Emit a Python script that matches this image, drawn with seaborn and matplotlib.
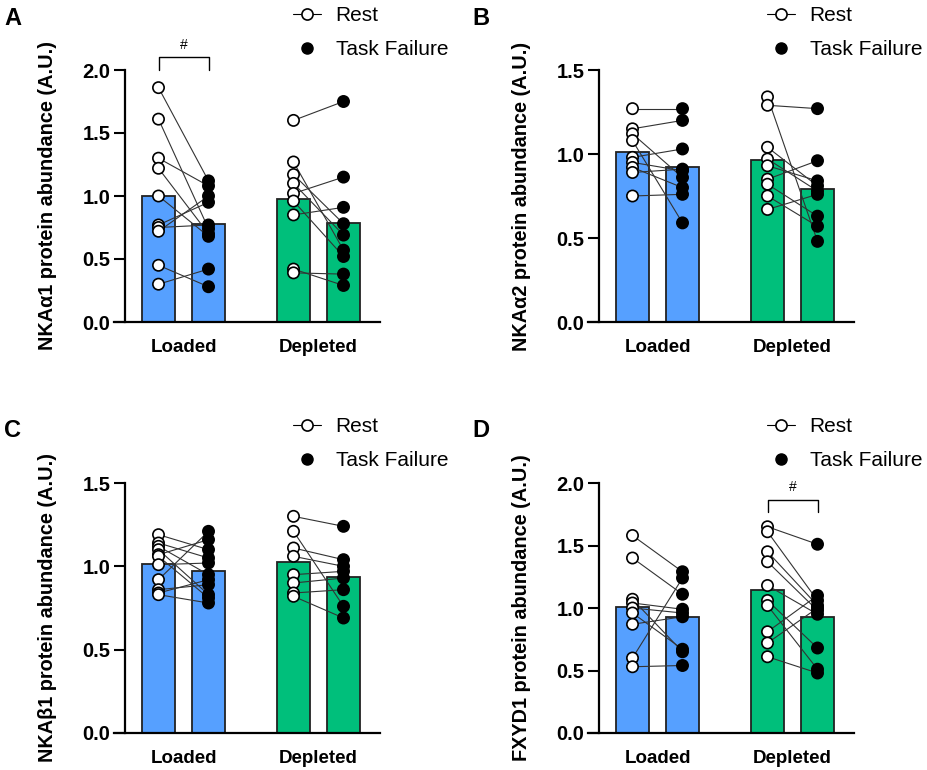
import pandas as pd
import matplotlib
matplotlib.use("Agg")
import matplotlib.pyplot as plt
from matplotlib.lines import Line2D
import seaborn as sns

# values, paired by subject (same index = same subject)
a_loaded_rest = [1.86, 1.61, 1.30, 1.22, 1.00, 0.77, 0.75, 0.72, 0.45, 0.30]
a_loaded_tf = [1.12, 0.74, 1.08, 0.70, 0.68, 0.95, 0.77, 1.00, 0.28, 0.42]
a_depleted_rest = [1.60, 1.27, 1.17, 1.10, 1.02, 0.96, 0.85, 0.42, 0.39]
a_depleted_tf = [1.75, 0.57, 0.78, 0.69, 1.15, 0.52, 0.91, 0.29, 0.38]

b_loaded_rest = [1.27, 1.15, 1.12, 1.08, 0.98, 0.95, 0.92, 0.89, 0.75]
b_loaded_tf = [1.27, 1.20, 0.86, 0.59, 1.03, 0.90, 0.80, 0.91, 0.76]
b_depleted_rest = [1.34, 1.29, 1.04, 0.97, 0.93, 0.85, 0.82, 0.75, 0.67]
b_depleted_tf = [0.48, 1.27, 0.81, 0.78, 0.84, 0.96, 0.63, 0.57, 0.76]

c_loaded_rest = [1.19, 1.14, 1.12, 1.10, 1.07, 1.06, 1.01, 0.92, 0.86, 0.84, 0.83]
c_loaded_tf = [1.10, 1.05, 0.95, 0.83, 1.16, 0.81, 1.02, 1.21, 0.89, 0.92, 0.78]
c_depleted_rest = [1.30, 1.21, 1.11, 1.06, 0.95, 0.90, 0.84, 0.82]
c_depleted_tf = [1.24, 0.76, 1.04, 1.00, 0.97, 0.93, 0.86, 0.69]

d_loaded_rest = [1.58, 1.40, 1.07, 1.04, 1.00, 0.96, 0.87, 0.60, 0.53]
d_loaded_tf = [1.29, 1.11, 0.65, 0.99, 0.96, 0.67, 0.93, 1.24, 0.54]
d_depleted_rest = [1.65, 1.61, 1.45, 1.37, 1.18, 1.06, 1.02, 0.81, 0.72, 0.61]
d_depleted_tf = [1.51, 1.06, 1.02, 0.98, 0.95, 0.68, 0.51, 1.10, 1.00, 0.48]

panel_letters = ["A", "B", "C", "D"]
ylabels = ["NKAα1 protein abundance (A.U.)", "NKAα2 protein abundance (A.U.)",
           "NKAβ1 protein abundance (A.U.)", "FXYD1 protein abundance (A.U.)"]
ymax = [2.0, 1.5, 1.5, 2.0]
yticks = [[0, 0.5, 1.0, 1.5, 2.0], [0, 0.5, 1.0, 1.5], [0, 0.5, 1.0, 1.5], [0, 0.5, 1.0, 1.5, 2.0]]
group_labels = ["Loaded", "Depleted"]
time_labels = ["Rest", "Task Failure"]
# significance bracket: panel index -> group
brackets = {0: "Loaded", 3: "Depleted"}

panel_data = [
    (a_loaded_rest, a_loaded_tf, a_depleted_rest, a_depleted_tf),
    (b_loaded_rest, b_loaded_tf, b_depleted_rest, b_depleted_tf),
    (c_loaded_rest, c_loaded_tf, c_depleted_rest, c_depleted_tf),
    (d_loaded_rest, d_loaded_tf, d_depleted_rest, d_depleted_tf),
]

# bar positions on the x axis
xpos = {("Loaded", "Rest"): 0.0, ("Loaded", "Task Failure"): 1.0,
        ("Depleted", "Rest"): 2.7, ("Depleted", "Task Failure"): 3.7}
bar_colors = {"Loaded": "#56A0FF", "Depleted": "#00BF7B"}


def long_df(lr, lt, dr, dt):
    rows = []
    for group, rest, tf in [("Loaded", lr, lt), ("Depleted", dr, dt)]:
        for i, (r, t) in enumerate(zip(rest, tf)):
            rows.append((group, "Rest", f"{group}{i}", r, xpos[(group, "Rest")]))
            rows.append((group, "Task Failure", f"{group}{i}", t, xpos[(group, "Task Failure")]))
    return pd.DataFrame(rows, columns=["group", "time", "subject", "value", "x"])


sns.set_style("white")
plt.rcParams["font.family"] = ["Liberation Sans", "DejaVu Sans"]
plt.rcParams.update({"text.color": "black", "axes.labelcolor": "black",
                     "xtick.color": "black", "ytick.color": "black"})

fig = plt.figure(figsize=(9.27, 7.70), dpi=100)
W, H = 927, 770
# axes boxes in pixels: left, right, top, bottom
boxes = [(114, 380, 70, 322), (588, 854, 70, 322), (114, 380, 483, 733), (588, 854, 483, 733)]
letter_pos = [(4, 7), (472, 7), (4, 419), (472, 419)]
legend_pos = [(293, 6), (767, 6), (293, 417), (767, 417)]

for k in range(4):
    l, r, t, b = boxes[k]
    ax = fig.add_axes([l / W, 1 - b / H, (r - l) / W, (b - t) / H])
    df = long_df(*panel_data[k])

    sns.barplot(data=df, x="x", y="value", hue="group", palette=bar_colors,
                native_scale=True, dodge=False, width=0.66, errorbar=None,
                saturation=1, edgecolor="#222222", linewidth=1.3, legend=False, ax=ax)
    sns.lineplot(data=df, x="x", y="value", units="subject", estimator=None,
                 color="#333333", linewidth=0.8, legend=False, ax=ax, zorder=2.5)
    sns.scatterplot(data=df, x="x", y="value", hue="time",
                    palette={"Rest": "white", "Task Failure": "black"},
                    edgecolor="black", linewidth=1.2, s=66, legend=False,
                    ax=ax, zorder=3, clip_on=False)

    for side in ["top", "right"]:
        ax.spines[side].set_visible(False)
    ax.spines["left"].set_position(("data", -0.67))
    for side in ["left", "bottom"]:
        ax.spines[side].set_linewidth(1.6)
        ax.spines[side].set_color("black")

    ax.set_xlim(-0.89, 4.43)
    ax.set_ylim(0, ymax[k])
    ax.set_yticks(yticks[k])
    ax.set_yticklabels([f"{v:.1f}" for v in yticks[k]], fontsize=14.5, fontweight="bold")
    ax.set_xticks([0.5, 3.2])
    ax.set_xticklabels(group_labels, fontsize=13.5, fontweight="bold")
    ax.tick_params(axis="x", length=0, pad=12)
    ax.tick_params(axis="y", length=8, width=1.5, direction="out", pad=2.5, left=True)
    ax.set_xlabel("")
    ax.set_ylabel(ylabels[k], fontsize=14.3, fontweight="bold")
    ax.yaxis.set_label_coords(-0.215, 0.5)

    if k in brackets:
        g = brackets[k]
        x0, x1 = xpos[(g, "Rest")], xpos[(g, "Task Failure")]
        if g == "Loaded":
            ylo, yhi, ytxt = 2.0, 2.1, 2.2
        else:
            ylo, yhi, ytxt = 1.77, 1.865, 1.97
        ax.plot([x0, x0, x1, x1], [ylo, yhi, yhi, ylo], color="black", lw=1.0, clip_on=False)
        ax.text((x0 + x1) / 2, ytxt, "#", ha="center", va="center", fontsize=10)

    handles = [Line2D([0], [0], color="black", lw=0.8, marker="o", markersize=8,
                      markerfacecolor="white", markeredgecolor="black", markeredgewidth=1.2),
               Line2D([0], [0], color="none", marker="o", markersize=8,
                      markerfacecolor="black", markeredgecolor="black")]
    lx, ly = legend_pos[k]
    fig.legend(handles, time_labels, loc="upper left", bbox_to_anchor=(lx / W, 1 - ly / H),
               frameon=False, fontsize=15, handlelength=1.35, handletextpad=0.7,
               labelspacing=0.72, borderpad=0, borderaxespad=0)

    px, py = letter_pos[k]
    fig.text(px / W, 1 - py / H, panel_letters[k], fontsize=17, fontweight="bold",
             ha="left", va="top")

fig.savefig("out.png", dpi=100)
